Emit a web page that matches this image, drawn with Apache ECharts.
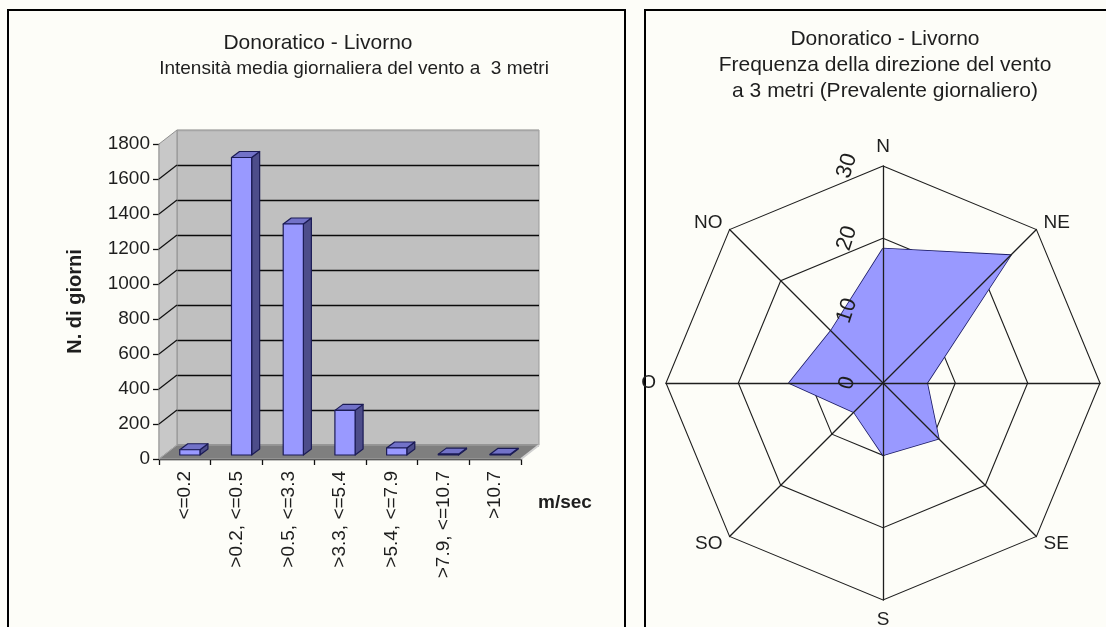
<!DOCTYPE html>
<html>
<head>
<meta charset="utf-8">
<script src="https://cdn.jsdelivr.net/npm/echarts@6/dist/echarts.min.js"></script>
<style>
  html, body { margin: 0; padding: 0; background: #fdfdf8; }
  #chart { width: 1106px; height: 627px; }
</style>
</head>
<body>
<div id="chart"></div>
<script>
// Wind speed classes (m/sec) and number of days in each class
const speedClasses = ['<=0.2', '>0.2, <=0.5', '>0.5, <=3.3', '>3.3, <=5.4', '>5.4, <=7.9', '>7.9, <=10.7', '>10.7'];
const dayCounts = [30, 1700, 1320, 255, 40, 5, 4];
const dayTicks = [0, 200, 400, 600, 800, 1000, 1200, 1400, 1600, 1800];

// Prevailing daily wind direction frequency (%), listed counter-clockwise from north
const directions = ['N', 'NO', 'O', 'SO', 'S', 'SE', 'E', 'NE'];
const directionFreq = [18.6, 10.2, 13.0, 5.7, 10.0, 10.9, 6.1, 25.0];
const freqTicks = [0, 10, 20, 30];

const FONT = '"Liberation Sans", Arial, sans-serif';
const TEXT = '#1e1e1e';
const Y_MAX = dayTicks[dayTicks.length - 1];
const Y_STEP = dayTicks[1] - dayTicks[0];

// pseudo-3D depth of the plot box and of each bar
const WALL_DX = 18, WALL_DY = -14;
const BAR_SHIFT_X = 5, BAR_SHIFT_Y = -4;
const BAR_DX = 8, BAR_DY = -6;

const chart = echarts.init(document.getElementById('chart'), null, { renderer: 'canvas' });

// side wall, its grid lines and the floor of the box
function renderWalls(params, api) {
  const o = api.coord([0, 0]);
  const band = api.size([1, 0])[0];
  const left = o[0] - band / 2;
  const right = left + band * speedClasses.length;
  const bottom = o[1];
  const top = api.coord([0, Y_MAX])[1];
  const children = [{
    type: 'polygon',
    shape: { points: [[left, bottom], [left, top], [left + WALL_DX, top + WALL_DY], [left + WALL_DX, bottom + WALL_DY]] },
    style: { fill: '#c8c8c8', stroke: '#909090', lineWidth: 1 }
  }];
  dayTicks.forEach(function (v) {
    if (v === 0 || v === Y_MAX) return;
    const y = api.coord([0, v])[1];
    children.push({
      type: 'line',
      shape: { x1: left, y1: y, x2: left + WALL_DX, y2: y + WALL_DY },
      style: { stroke: '#111', lineWidth: 1.2 }
    });
  });
  children.push({
    type: 'polygon',
    shape: { points: [[left, bottom], [right, bottom], [right + WALL_DX, bottom + WALL_DY], [left + WALL_DX, bottom + WALL_DY]] },
    style: { fill: '#7f7f7f', stroke: '#a8a8a8', lineWidth: 1 }
  });
  children.push({
    type: 'line',
    shape: { x1: right, y1: bottom, x2: right + WALL_DX, y2: bottom + WALL_DY },
    style: { stroke: '#d0d0d0', lineWidth: 2 }
  });
  return { type: 'group', children: children };
}

// one 3D bar: front face, right side and top
function renderBar(params, api) {
  const idx = api.value(0);
  const v = api.value(1);
  const top = api.coord([idx, v]);
  const base = api.coord([idx, 0]);
  const band = api.size([1, 0])[0];
  const w = band * 0.39;
  const x1 = top[0] - w / 2 + BAR_SHIFT_X;
  const x2 = x1 + w;
  const yt = top[1] + BAR_SHIFT_Y;
  const yb = base[1] + BAR_SHIFT_Y;
  const edge = { stroke: '#1b1b55', lineWidth: 1.2, lineJoin: 'round' };
  return {
    type: 'group',
    children: [
      { type: 'polygon', shape: { points: [[x2, yt], [x2 + BAR_DX, yt + BAR_DY], [x2 + BAR_DX, yb + BAR_DY], [x2, yb]] },
        style: Object.assign({ fill: '#4d4d8a' }, edge) },
      { type: 'polygon', shape: { points: [[x1, yt], [x1 + BAR_DX, yt + BAR_DY], [x2 + BAR_DX, yt + BAR_DY], [x2, yt]] },
        style: Object.assign({ fill: '#7272c8' }, edge) },
      { type: 'rect', shape: { x: x1, y: yt, width: w, height: Math.max(yb - yt, 0.5) },
        style: Object.assign({ fill: '#9999ff' }, edge) }
    ]
  };
}

const scaleLabel = { fontSize: 22, color: TEXT, fontFamily: FONT, rotate: 72, margin: 36, align: 'center', verticalAlign: 'middle' };

const option = {
  backgroundColor: '#fdfdf8',
  animation: false,
  textStyle: { fontFamily: FONT },
  graphic: [
    { type: 'rect', shape: { x: 8, y: 10, width: 617, height: 700 }, style: { fill: 'none', stroke: '#000', lineWidth: 2 }, silent: true, z: -10 },
    { type: 'rect', shape: { x: 645, y: 10, width: 600, height: 700 }, style: { fill: 'none', stroke: '#000', lineWidth: 2 }, silent: true, z: -10 },
    { type: 'text', x: 318, y: 43, style: { text: 'Donoratico - Livorno', font: '21px ' + FONT, fill: TEXT, align: 'center', verticalAlign: 'middle' } },
    { type: 'text', x: 354, y: 69, style: { text: 'Intensità media giornaliera del vento a  3 metri', font: '19px ' + FONT, fill: TEXT, align: 'center', verticalAlign: 'middle' } },
    { type: 'text', x: 885, y: 39, style: { text: 'Donoratico - Livorno', font: '21px ' + FONT, fill: TEXT, align: 'center', verticalAlign: 'middle' } },
    { type: 'text', x: 885, y: 65, style: { text: 'Frequenza della direzione del vento', font: '21px ' + FONT, fill: TEXT, align: 'center', verticalAlign: 'middle' } },
    { type: 'text', x: 885, y: 91, style: { text: 'a 3 metri (Prevalente giornaliero)', font: '21px ' + FONT, fill: TEXT, align: 'center', verticalAlign: 'middle' } },
    { type: 'text', x: 538, y: 503, style: { text: 'm/sec', font: 'bold 19px ' + FONT, fill: TEXT, align: 'left', verticalAlign: 'middle' } }
  ],
  grid: [
    // back wall
    { left: 159 + WALL_DX, top: 144 + WALL_DY, width: 362, height: 315, show: true,
      backgroundColor: '#c0c0c0', borderColor: '#9a9a9a', borderWidth: 1, z: 0 },
    // front plane carrying the axes
    { left: 159, top: 144, width: 362, height: 315 }
  ],
  xAxis: [
    { gridIndex: 0, type: 'category', data: speedClasses, show: false },
    { gridIndex: 1, type: 'category', data: speedClasses,
      axisLine: { lineStyle: { color: '#111', width: 1.3 } },
      axisTick: { show: true, length: 6, lineStyle: { color: '#111', width: 1.3 } },
      axisLabel: { rotate: 90, margin: 12, fontSize: 19, color: TEXT, fontFamily: FONT, interval: 0 },
      splitLine: { show: false } }
  ],
  yAxis: [
    { gridIndex: 0, type: 'value', min: 0, max: Y_MAX, interval: Y_STEP,
      axisLine: { show: false }, axisTick: { show: false }, axisLabel: { show: false },
      splitLine: { show: true, lineStyle: { color: ['#0a0a0a', '#0a0a0a', '#0a0a0a', '#0a0a0a', '#0a0a0a', '#0a0a0a', '#0a0a0a', '#0a0a0a', '#0a0a0a', '#a5a5a5'], width: 1.3 } } },
    { gridIndex: 1, type: 'value', min: 0, max: Y_MAX, interval: Y_STEP,
      name: 'N. di giorni', nameLocation: 'middle', nameGap: 74, nameRotate: 90,
      nameTextStyle: { fontSize: 20, fontWeight: 'bold', color: TEXT, fontFamily: FONT },
      axisLine: { show: true, lineStyle: { color: '#111', width: 1.3 } },
      axisTick: { show: true, length: 6, lineStyle: { color: '#111', width: 1.3 } },
      axisLabel: { fontSize: 19, color: TEXT, fontFamily: FONT, margin: 9, formatter: function (v) { return String(v); } },
      splitLine: { show: false } }
  ],
  radar: [
    // rings, drawn under the filled area
    { center: [883, 383], radius: 217, startAngle: 90, shape: 'polygon', splitNumber: 3, z: 0,
      indicator: directions.map(function (d) { return { name: d, min: 0, max: freqTicks[freqTicks.length - 1] }; }),
      axisName: { show: false },
      axisLine: { show: false },
      splitLine: { lineStyle: { color: '#1e1e1e', width: 1.1 } },
      splitArea: { show: false } },
    // spokes, direction names and scale labels on top
    { center: [883, 383], radius: 217, startAngle: 90, shape: 'polygon', splitNumber: 3, z: 5,
      nameGap: 10,
      indicator: directions.map(function (d, i) {
        const ind = { name: d, min: 0, max: freqTicks[freqTicks.length - 1] };
        if (i === 0) {
          ind.axisLabel = Object.assign({ show: true }, scaleLabel);
        }
        return ind;
      }),
      axisName: { color: TEXT, fontSize: 19, fontFamily: FONT },
      axisLine: { lineStyle: { color: '#1e1e1e', width: 1.3 } },
      axisLabel: Object.assign({ show: false }, scaleLabel),
      splitLine: { show: false },
      splitArea: { show: false } }
  ],
  series: [
    { type: 'custom', xAxisIndex: 1, yAxisIndex: 1, renderItem: renderWalls, data: [[0, 0]], silent: true, z: 1 },
    { type: 'custom', xAxisIndex: 1, yAxisIndex: 1, renderItem: renderBar, z: 3,
      encode: { x: 0, y: 1 },
      data: dayCounts.map(function (v, i) { return [i, v]; }) },
    { type: 'radar', radarIndex: 0, symbol: 'none', z: 2,
      lineStyle: { color: '#1b1b66', width: 1.6 },
      areaStyle: { color: '#9999ff', opacity: 1 },
      data: [{ value: directionFreq, name: 'Frequenza' }] }
  ]
};

chart.setOption(option);
</script>
</body>
</html>
